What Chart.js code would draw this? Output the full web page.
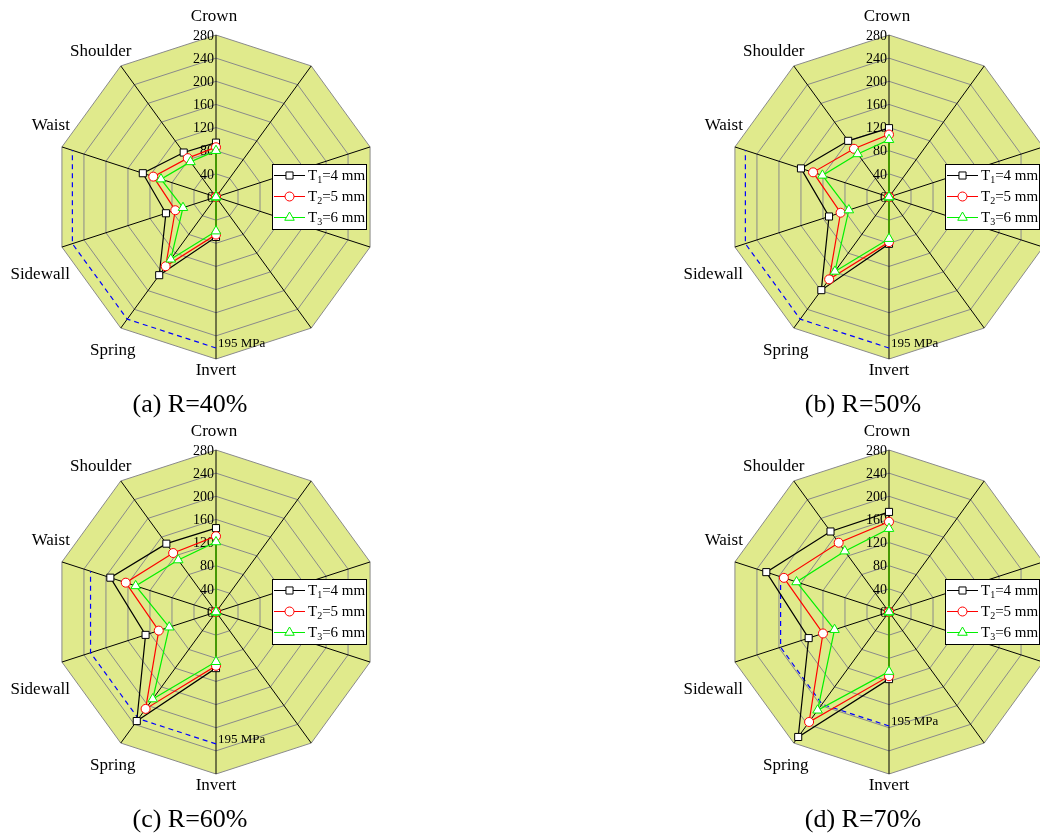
<!DOCTYPE html>
<html>
<head>
  <title>Radar stress charts</title>
  <script src="https://cdn.jsdelivr.net/npm/chart.js"></script>
  <style>
    html, body { margin: 0; padding: 0; background: #fff; overflow: hidden; }
    body { width: 1040px; height: 834px; position: relative; }
    canvas { position: absolute; }
  </style>
</head>
<body>
  <canvas id="chartA" width="520" height="420" style="left:0px;top:0px"></canvas>
  <canvas id="chartB" width="520" height="420" style="left:673px;top:0px"></canvas>
  <canvas id="chartC" width="520" height="420" style="left:0px;top:415px"></canvas>
  <canvas id="chartD" width="520" height="420" style="left:673px;top:415px"></canvas>

  <script>
    // axes go clockwise from the top; the right-hand spokes carry no label
    const categories = ['Crown', '', '', '', '', 'Invert', 'Spring', 'Sidewall', 'Waist', 'Shoulder'];
    const radialTicks = [0, 40, 80, 120, 160, 200, 240, 280];
    const seriesNames = [['T', '1', '=4 mm'], ['T', '2', '=5 mm'], ['T', '3', '=6 mm']];
    const panelTitles = ['(a) R=40%', '(b) R=50%', '(c) R=60%', '(d) R=70%'];
    const limitLabel = '195 MPa';

    // order: Crown, -, -, -, -, Invert, Spring, Sidewall, Waist, Shoulder
    const t1R40 = [94, 0, 0, 0, 0, 69, 167, 91, 133, 95];
    const t2R40 = [86, 0, 0, 0, 0, 65, 148, 74, 114, 83];
    const t3R40 = [80, 0, 0, 0, 0, 59, 133, 60, 100, 75];

    const t1R50 = [119, 0, 0, 0, 0, 81, 199, 109, 160, 120];
    const t2R50 = [108, 0, 0, 0, 0, 78, 176, 88, 138, 103];
    const t3R50 = [99, 0, 0, 0, 0, 72, 159, 73, 121, 92];

    const t1R60 = [145, 0, 0, 0, 0, 97, 233, 128, 192, 146];
    const t2R60 = [131, 0, 0, 0, 0, 93, 207, 104, 164, 126];
    const t3R60 = [121, 0, 0, 0, 0, 86, 186, 85, 146, 111];

    const t1R70 = [173, 0, 0, 0, 0, 116, 267, 146, 223, 172];
    const t2R70 = [156, 0, 0, 0, 0, 111, 235, 120, 191, 148];
    const t3R70 = [144, 0, 0, 0, 0, 103, 210, 99, 168, 130];

    // dashed 195 MPa line, drawn from Invert round to Waist
    const limitR40 = [null, null, null, null, null, 261, 261, 261, 261, null];
    const limitR50 = [null, null, null, null, null, 261, 261, 261, 261, null];
    const limitR60 = [null, null, null, null, null, 228, 228, 228, 228, null];
    const limitR70 = [null, null, null, null, null, 197, 197, 197, 197, null];

    const serif = "'Liberation Serif', 'Times New Roman', serif";
    const fillColor = '#e0ea8c';
    const seriesColors = ['#000000', '#ff0000', '#00f000'];
    const seriesShapes = ['rect', 'circle', 'triangle'];
    const seriesRadius = [5, 4.5, 5.5];

    // label placement relative to the outer vertex of each spoke
    const labelOffsets = {
      0: [-2, -18, 'center'],
      9: [-20, -14, 'center'],
      8: [8, -21, 'right'],
      7: [8, 27, 'right'],
      6: [-8, 22, 'center'],
      5: [0, 12, 'center']
    };

    function marker(ctx, shape, x, y, r, color) {
      ctx.save();
      ctx.fillStyle = '#fff';
      ctx.strokeStyle = color;
      ctx.lineWidth = 1;
      ctx.beginPath();
      if (shape === 'rect') {
        const s = r * Math.SQRT1_2;
        ctx.rect(x - s, y - s, 2 * s, 2 * s);
      } else if (shape === 'circle') {
        ctx.arc(x, y, r, 0, Math.PI * 2);
      } else {
        ctx.moveTo(x, y - r);
        ctx.lineTo(x + Math.sin(Math.PI * 2 / 3) * r, y + r / 2);
        ctx.lineTo(x - Math.sin(Math.PI * 2 / 3) * r, y + r / 2);
        ctx.closePath();
      }
      ctx.fill();
      ctx.stroke();
      ctx.restore();
    }

    const decorPlugin = {
      id: 'decor',
      beforeDatasetsDraw(chart) {
        const scale = chart.scales.r;
        const ctx = chart.ctx;
        ctx.save();
        ctx.font = '14px ' + serif;
        ctx.fillStyle = '#000';
        ctx.textAlign = 'right';
        ctx.textBaseline = 'middle';
        radialTicks.forEach(v => {
          const d = scale.getDistanceFromCenterForValue(v);
          ctx.fillText(String(v), scale.xCenter - 2, scale.yCenter - d + 1);
        });
        ctx.restore();
      },
      afterDraw(chart, args, opts) {
        const scale = chart.scales.r;
        const ctx = chart.ctx;
        ctx.save();

        // spoke labels
        ctx.font = '17px ' + serif;
        ctx.fillStyle = '#000';
        ctx.textBaseline = 'middle';
        categories.forEach((name, i) => {
          if (!name) return;
          const p = scale.getPointPosition(i, scale.drawingArea);
          const o = labelOffsets[i];
          ctx.textAlign = o[2];
          ctx.fillText(name, p.x + o[0], p.y + o[1]);
        });

        // 195 MPa tag at the end of the dashed line
        const lim = chart.data.datasets[3].data[5];
        const q = scale.getPointPositionForValue(5, lim);
        ctx.font = '13px ' + serif;
        ctx.textAlign = 'left';
        ctx.fillText(limitLabel, q.x + 2, q.y - 4);

        // legend box
        const bx = scale.xCenter + 56, by = scale.yCenter - 33;
        ctx.fillStyle = '#fff';
        ctx.fillRect(bx, by, 94, 65);
        ctx.strokeStyle = '#000';
        ctx.lineWidth = 1;
        ctx.strokeRect(bx + 0.5, by + 0.5, 94, 65);
        seriesNames.forEach((parts, k) => {
          const y = by + 11 + k * 21;
          ctx.strokeStyle = seriesColors[k];
          ctx.beginPath();
          ctx.moveTo(bx + 2, y + 0.5);
          ctx.lineTo(bx + 33, y + 0.5);
          ctx.stroke();
          marker(ctx, seriesShapes[k], bx + 17.5, y + 0.5, seriesRadius[k], seriesColors[k]);
          ctx.fillStyle = '#000';
          ctx.textAlign = 'left';
          ctx.textBaseline = 'middle';
          let tx = bx + 36;
          ctx.font = '15px ' + serif;
          ctx.fillText(parts[0], tx, y + 1);
          tx += ctx.measureText(parts[0]).width;
          ctx.font = '10px ' + serif;
          ctx.fillText(parts[1], tx, y + 5);
          tx += ctx.measureText(parts[1]).width;
          ctx.font = '15px ' + serif;
          ctx.fillText(parts[2], tx, y + 1);
        });

        // panel caption
        ctx.font = '26px ' + serif;
        ctx.fillStyle = '#000';
        ctx.textAlign = 'center';
        ctx.textBaseline = 'middle';
        ctx.fillText(opts.title, 190, 405);
        ctx.restore();
      }
    };

    function series(values, k) {
      return {
        data: values,
        borderColor: seriesColors[k],
        borderWidth: 1.2,
        fill: false,
        tension: 0,
        pointStyle: seriesShapes[k],
        pointRadius: seriesRadius[k],
        pointBackgroundColor: '#fff',
        pointBorderColor: seriesColors[k],
        pointBorderWidth: 1,
        order: 3 - k
      };
    }

    function drawPanel(id, title, t1, t2, t3, limit) {
      const ctx = document.getElementById(id).getContext('2d');
      new Chart(ctx, {
        type: 'radar',
        data: {
          labels: categories,
          datasets: [
            series(t1, 0),
            series(t2, 1),
            series(t3, 2),
            {
              data: limit,
              borderColor: '#0000ff',
              borderWidth: 1.2,
              borderDash: [5, 4],
              fill: false,
              pointRadius: 0,
              order: 5
            }
          ]
        },
        options: {
          responsive: false,
          devicePixelRatio: 1,
          animation: false,
          events: [],
          layout: { padding: { left: 54, top: 35, right: 142, bottom: 61 } },
          plugins: {
            legend: { display: false },
            tooltip: { enabled: false },
            decor: { title: title }
          },
          scales: {
            r: {
              min: 0,
              max: 280,
              backgroundColor: fillColor,
              ticks: { display: false, stepSize: 40 },
              pointLabels: { display: false },
              grid: { color: '#8a8a8a', lineWidth: 1 },
              angleLines: { color: '#000', lineWidth: 1 }
            }
          }
        },
        plugins: [decorPlugin]
      });
    }

    drawPanel('chartA', panelTitles[0], t1R40, t2R40, t3R40, limitR40);
    drawPanel('chartB', panelTitles[1], t1R50, t2R50, t3R50, limitR50);
    drawPanel('chartC', panelTitles[2], t1R60, t2R60, t3R60, limitR60);
    drawPanel('chartD', panelTitles[3], t1R70, t2R70, t3R70, limitR70);
  </script>
</body>
</html>
